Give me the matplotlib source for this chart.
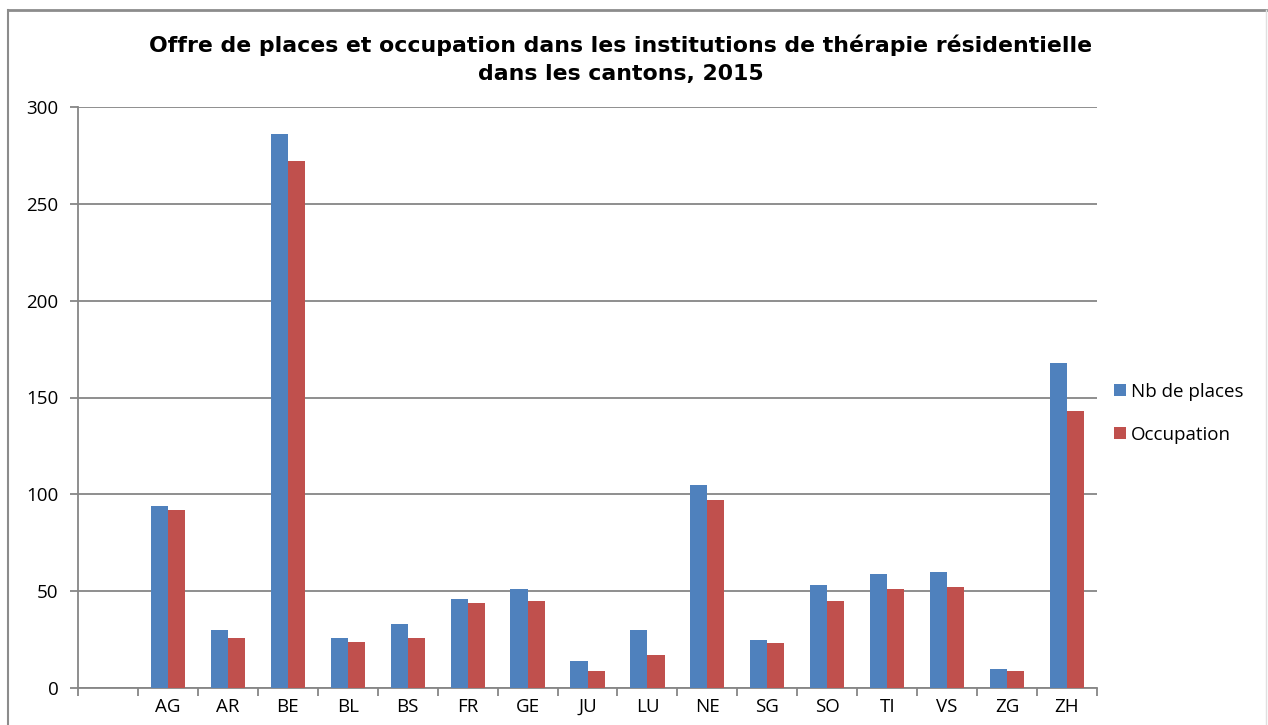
import matplotlib.pyplot as plt
from matplotlib.lines import Line2D
import numpy as np

# --------------------------------------------------
# data

cantons = ["", "AG", "AR", "BE", "BL", "BS", "FR", "GE", "JU", "LU",
           "NE", "SG", "SO", "TI", "VS", "ZG", "ZH"]

nb_places = [0, 94, 30, 286, 26, 33, 46, 51, 14, 30,
             105, 25, 53, 59, 60, 10, 168]

occupation = [0, 92, 26, 272, 24, 26, 44, 45, 9, 17,
              97, 23, 45, 51, 52, 9, 143]

title = ("Offre de places et occupation dans les institutions de thérapie résidentielle\n"
         "dans les cantons, 2015")

BLUE = "#4F81BD"
RED = "#C0504D"
GRID = "#868686"

plt.rcParams["font.family"] = ["Open Sans", "DejaVu Sans"]

fig = plt.figure(figsize=(12.68, 7.25), dpi=100)
ax = fig.add_axes([78 / 1268, 37 / 725, (1097 - 78) / 1268, (688 - 107) / 725])

x = np.arange(len(cantons))
w = 0.285

ax.bar(x - w / 2, nb_places, w, color=BLUE, label="Nb de places", zorder=3)
ax.bar(x + w / 2, occupation, w, color=RED, label="Occupation", zorder=3)

ax.set_xlim(-0.5, len(cantons) - 0.5)
ax.set_ylim(0, 300)
ax.set_yticks(range(0, 301, 50))
ax.yaxis.grid(True, color=GRID, linewidth=1.3, zorder=0)

ax.set_xticks(x)
ax.set_xticklabels(cantons)
ax.set_xticks(np.arange(-0.5, len(cantons)), minor=True)
ax.tick_params(axis="x", which="major", length=0, pad=7, labelsize=13.5)
ax.tick_params(axis="x", which="minor", length=6, width=1.3, color=GRID)
ax.tick_params(axis="y", length=6, width=1.3, color=GRID, labelsize=13.5, pad=8)

for side in ["top", "right"]:
    ax.spines[side].set_visible(False)
for side in ["left", "bottom"]:
    ax.spines[side].set_color(GRID)
    ax.spines[side].set_linewidth(1.3)

ax.legend(loc="upper left", bbox_to_anchor=(1.006, 0.545), frameon=False,
          fontsize=13.5, handlelength=0.6, handleheight=0.6, handletextpad=0.3,
          labelspacing=1.35, borderaxespad=0.2)

fig.text(621 / 1268, 1 - 59 / 725, title, ha="center", va="center",
         fontsize=15.8, fontweight="bold", family="DejaVu Sans", linespacing=1.47)

# outer chart frame
fig.add_artist(Line2D([8 / 1268, 1266 / 1268], [1 - 10 / 725, 1 - 10 / 725],
                      transform=fig.transFigure, color="#8c8c8c", linewidth=2))
fig.add_artist(Line2D([8 / 1268, 8 / 1268], [0, 1 - 10 / 725],
                      transform=fig.transFigure, color="#8c8c8c", linewidth=1.5))
fig.add_artist(Line2D([1266 / 1268, 1266 / 1268], [0, 1 - 10 / 725],
                      transform=fig.transFigure, color="#e0e0e0", linewidth=1))

fig.savefig("out.png", dpi=100)
